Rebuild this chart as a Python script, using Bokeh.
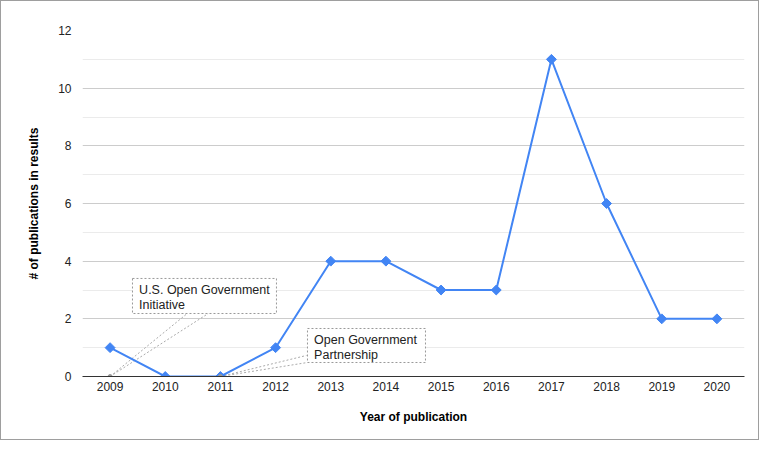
import math
from bokeh.plotting import figure
from bokeh.models import FixedTicker, Range1d
from bokeh.core.properties import value
from bokeh.embed import file_html
from bokeh.resources import INLINE

years = [2009, 2010, 2011, 2012, 2013, 2014, 2015, 2016, 2017, 2018, 2019, 2020]
counts = [1, 0, 0, 1, 4, 4, 3, 3, 11, 6, 2, 2]
y_ticks = [0, 2, 4, 6, 8, 10, 12]
y_minor = [1, 3, 5, 7, 9, 11]

ann_years = [2009, 2011]
ann_texts = ["U.S. Open Government\nInitiative", "Open Government\nPartnership"]
# annotation boxes (data coords): left, right, bottom, top
ann_left = [2009.406, 2012.578]
ann_right = [2012.016, 2014.717]
ann_bottom = [2.185, 0.486]
ann_top = [3.400, 1.665]
# leader line end points (data coords)
lead_x = [2010.398, 2010.780, 2012.560, 2012.578]
lead_y = [2.185, 2.185, 0.730, 0.486]
lead_from = [2009, 2009, 2011, 2011]

FONT = "Liberation Sans"

p = figure(width=759, height=440, output_backend="svg", toolbar_location=None,
           x_range=Range1d(2008.5, 2020.5), y_range=Range1d(0, 12),
           min_border_left=81, min_border_right=16, min_border_top=29, min_border_bottom=65)
p.styles = {"border": "1px solid #9e9e9e"}
p.outline_line_color = None
p.background_fill_color = "white"
p.border_fill_color = "white"

# axes
p.xaxis.ticker = FixedTicker(ticks=years)
p.xaxis.axis_line_color = "#333333"
p.xaxis.major_tick_line_color = None
p.xaxis.minor_tick_line_color = None
p.xaxis.major_tick_out = 0
p.xaxis.major_tick_in = 0
p.xaxis.major_label_text_font = FONT
p.xaxis.major_label_text_font_size = "12px"
p.xaxis.major_label_text_color = "#222222"
p.xaxis.major_label_standoff = 5
p.xaxis.axis_label = "Year of publication"
p.xaxis.axis_label_text_font = FONT
p.xaxis.axis_label_text_font_size = "12px"
p.xaxis.axis_label_text_font_style = "bold"
p.xaxis.axis_label_text_color = "#000000"
p.xaxis.axis_label_standoff = 16

p.yaxis.ticker = FixedTicker(ticks=y_ticks, minor_ticks=y_minor)
p.yaxis.axis_line_color = None
p.yaxis.major_tick_line_color = None
p.yaxis.minor_tick_line_color = None
p.yaxis.major_tick_out = 0
p.yaxis.major_tick_in = 0
p.yaxis.major_label_text_font = FONT
p.yaxis.major_label_text_font_size = "12px"
p.yaxis.major_label_text_color = "#222222"
p.yaxis.major_label_standoff = 7
p.yaxis.axis_label = "# of publications in results"
p.yaxis.axis_label_text_font = FONT
p.yaxis.axis_label_text_font_size = "12px"
p.yaxis.axis_label_text_font_style = "bold"
p.yaxis.axis_label_text_color = "#000000"
p.yaxis.axis_label_standoff = 14

p.xgrid.grid_line_color = None
p.ygrid.grid_line_color = "#cccccc"
p.ygrid.minor_grid_line_color = "#ebebeb"

# annotation leader lines
p.segment(x0=lead_from, y0=[0] * len(lead_from), x1=lead_x, y1=lead_y,
          line_color="#aaaaaa", line_width=1, line_dash="2 2")

# annotation boxes
p.quad(left=ann_left, right=ann_right, bottom=ann_bottom, top=ann_top,
       fill_color="white", line_color="#999999", line_width=1, line_dash="2 2")
p.text(x=[l + 0.12 for l in ann_left], y=[t - 0.16 for t in ann_top], text=ann_texts,
       text_font=value(FONT), text_font_size="12.5px", text_color="#222222",
       text_baseline="top", text_align="left", text_line_height=1.1)

# data line
p.line(years, counts, line_color="#4285f4", line_width=2)
p.scatter(years, counts, marker="square", size=7, angle=math.pi / 4,
          fill_color="#4285f4", line_color="#4285f4")

# annotation anchor dots
p.scatter(ann_years, [0] * len(ann_years), marker="circle", size=4,
          fill_color="#999999", line_color="#999999")

open("out.html", "w").write(file_html(p, INLINE))
